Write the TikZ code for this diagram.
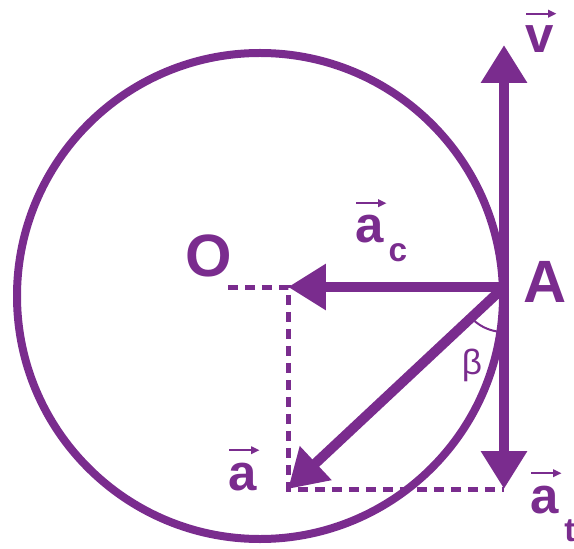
\documentclass[tikz,border=0pt]{standalone}
\usepackage{fontspec}
\setmainfont{Liberation Sans}
\usetikzlibrary{arrows.meta}
\definecolor{vecpurple}{RGB}{122,44,142}

\begin{document}
\begin{tikzpicture}[
    x=0.02cm, y=0.02cm,
    >={Triangle[length=0.76cm, width=0.88cm]},
    ring/.style={draw=vecpurple, line width=0.16cm},
    vector/.style={->, draw=vecpurple, line width=0.2cm},
    hat/.style={-{Triangle[length=0.17cm, width=0.15cm]}, draw=vecpurple, line width=0.045cm},
    helper/.style={draw=vecpurple, line width=0.1cm, dash pattern=on 0.2cm off 0.14cm},
    anglemark/.style={draw=vecpurple, line width=0.04cm},
    biglabel/.style={text=vecpurple, font=\fontsize{34}{34}\selectfont\bfseries, inner sep=0pt, anchor=base},
    veclabel/.style={text=vecpurple, font=\fontsize{29}{29}\selectfont\bfseries, inner sep=0pt, anchor=base},
    sublabel/.style={text=vecpurple, font=\fontsize{19}{19}\selectfont\bfseries, inner sep=0pt, anchor=base}
]
  \useasboundingbox (0,0) rectangle (574,548);

  % Points
  \coordinate (center) at (260,252);
  \coordinate (A) at (504,261);
  \coordinate (left) at (228,261);
  \coordinate (foot) at (288,261);
  \coordinate (tipa) at (288,59);
  \coordinate (tipt) at (504,59);
  \coordinate (tipv) at (504,503);

  % Trajectory
  \draw[ring] (center) circle[radius=243];

  % Components
  \draw[helper] (left) -- (foot) -- (tipa) -- (tipt);

  % Vectors
  \draw[vector] (A) -- (tipv);
  \draw[vector] (A) -- (tipt);
  \draw[vector] (A) -- (foot);
  \draw[vector] (A) -- (tipa);
  \draw[anglemark] (A) ++(-96:45) arc[start angle=-96, end angle=-131, radius=45];

  % Labels
  \node[biglabel] (labelO) at (209,272) {O};
  \node[biglabel] (labelA) at (545,246) {A};
  \node[veclabel] (labelv) at (540,495) {v};
  \node[veclabel] (labelac) at (370,305) {a};
  \node[sublabel] (labelc) at (398,286) {c};
  \node[veclabel] (labela) at (243,58) {a};
  \node[veclabel] (labelat) at (545,35) {a};
  \node[sublabel] (labelt) at (570,7) {t};
  \node[text=vecpurple, font=\fontsize{20}{20}\selectfont, inner sep=0pt] (labelbeta) at (472,183) {β};

  % Vector marks over the letters
  \foreach \lbl in {labelv, labelac, labela, labelat}
    \draw[hat] ([xshift=0.02cm, yshift=0.24cm]\lbl.north west) -- ([xshift=0.04cm, yshift=0.24cm]\lbl.north east);
\end{tikzpicture}
\end{document}
